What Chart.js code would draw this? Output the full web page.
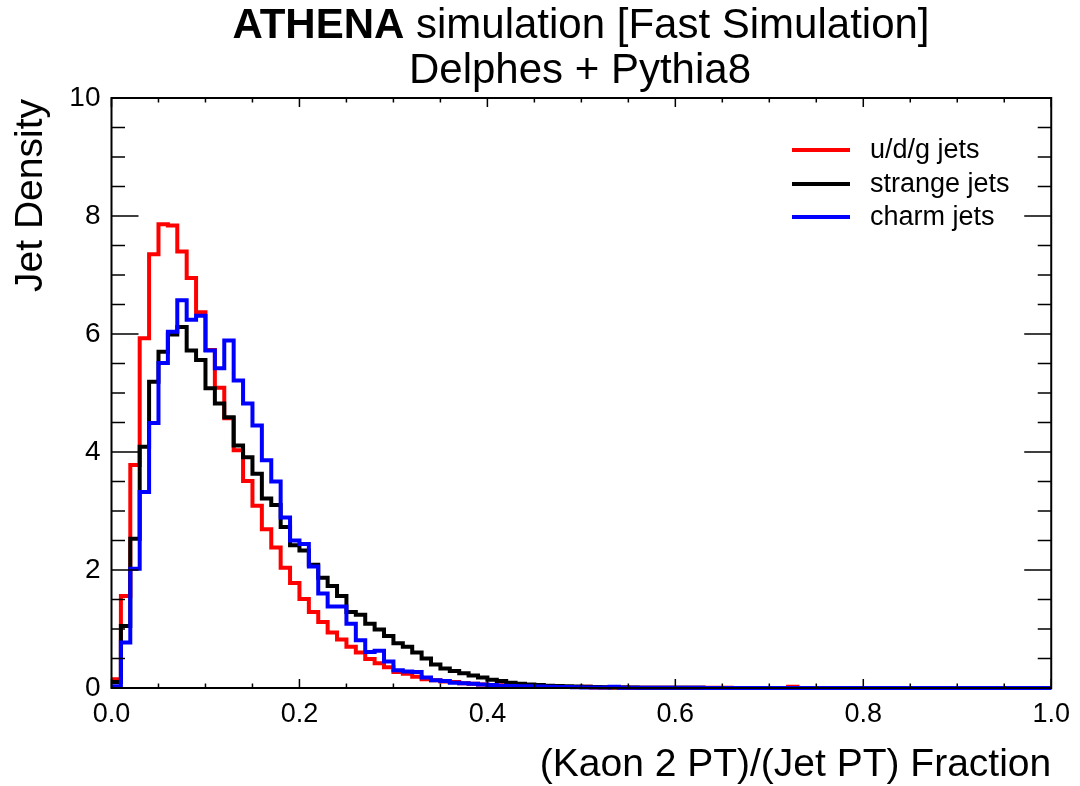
<!DOCTYPE html>
<html>
<head>
<meta charset="utf-8">
<script src="https://cdn.jsdelivr.net/npm/chart.js"></script>
<style>
  html, body { margin: 0; padding: 0; background: #ffffff; }
  #wrap { width: 1080px; height: 786px; position: relative; }
</style>
</head>
<body>
<div id="wrap"><canvas id="hist"></canvas></div>
<script>
  // bins: 100 bins of 0.01 on [0, 1]
  const binWidth = 0.01;
  const nBins = 100;
  const xTickLabels = ['0.0', '0.2', '0.4', '0.6', '0.8', '1.0'];
  const yTickLabels = ['0', '2', '4', '6', '8', '10'];
  const seriesNames = ['u/d/g jets', 'strange jets', 'charm jets'];
  const seriesColors = ['#ff0000', '#000000', '#0000ff'];

  // u/d/g jets (red)
  const udgValues = [
    0.15, 1.56, 3.78, 5.93, 7.35, 7.86, 7.84, 7.40, 6.95, 6.37,
    5.73, 5.09, 4.57, 4.03, 3.51, 3.09, 2.69, 2.38, 2.04, 1.78,
    1.51, 1.29, 1.12, 0.94, 0.82, 0.70, 0.60, 0.49, 0.42, 0.35,
    0.27, 0.24, 0.19, 0.15, 0.13, 0.11, 0.10, 0.08, 0.07, 0.06,
    0.05, 0.045, 0.04, 0.035, 0.03, 0.025, 0.02, 0.02, 0.015, 0.015,
    0.02, 0.01, 0.01, 0.008, 0.008, 0.006, 0.006, 0.005, 0.005, 0.004,
    0.004, 0.004, 0.003, 0.003, 0.003, 0.003, 0.002, 0.002, 0.002, 0.002,
    0.002, 0.002, 0.02, 0.002, 0.002, 0.001, 0.001, 0.001, 0.001, 0.001,
    0.001, 0.001, 0.001, 0.001, 0.001, 0.001, 0.001, 0.001, 0.001, 0.001,
    0.001, 0.001, 0.001, 0.001, 0.001, 0.001, 0.001, 0.001, 0.001, 0.001
  ];
  // strange jets (black)
  const strangeValues = [
    0.10, 1.05, 2.53, 4.09, 5.19, 5.70, 5.99, 6.12, 5.72, 5.56,
    5.08, 4.82, 4.59, 4.11, 3.91, 3.63, 3.21, 3.10, 2.73, 2.42,
    2.33, 2.09, 1.87, 1.73, 1.56, 1.29, 1.24, 1.09, 0.99, 0.88,
    0.76, 0.70, 0.60, 0.50, 0.40, 0.33, 0.29, 0.25, 0.21, 0.18,
    0.14, 0.12, 0.09, 0.07, 0.06, 0.05, 0.04, 0.035, 0.03, 0.025,
    0.02, 0.015, 0.012, 0.01, 0.008, 0.007, 0.006, 0.005, 0.004, 0.004,
    0.003, 0.003, 0.003, 0.002, 0.002, 0.002, 0.002, 0.002, 0.001, 0.001,
    0.001, 0.001, 0.001, 0.001, 0.001, 0.001, 0.001, 0.001, 0.001, 0.001,
    0.001, 0.001, 0.001, 0.001, 0.001, 0.001, 0.001, 0.001, 0.001, 0.001,
    0.001, 0.001, 0.001, 0.001, 0.001, 0.001, 0.001, 0.001, 0.001, 0.001
  ];
  // charm jets (blue)
  const charmValues = [
    0.03, 0.77, 2.02, 3.32, 4.49, 5.51, 6.04, 6.57, 6.24, 6.31,
    5.72, 5.42, 5.89, 5.21, 4.82, 4.45, 3.86, 3.50, 2.89, 2.50,
    2.44, 2.06, 1.60, 1.38, 1.38, 1.09, 0.81, 0.61, 0.63, 0.45,
    0.30, 0.28, 0.27, 0.18, 0.13, 0.12, 0.09, 0.08, 0.07, 0.06,
    0.05, 0.04, 0.035, 0.03, 0.03, 0.025, 0.02, 0.018, 0.015, 0.012,
    0.01, 0.008, 0.008, 0.02, 0.006, 0.005, 0.005, 0.004, 0.004, 0.003,
    0.003, 0.003, 0.003, 0.002, 0.002, 0.002, 0.002, 0.002, 0.002, 0.001,
    0.001, 0.001, 0.001, 0.001, 0.001, 0.001, 0.001, 0.001, 0.001, 0.001,
    0.001, 0.001, 0.001, 0.001, 0.001, 0.001, 0.001, 0.001, 0.001, 0.001,
    0.001, 0.001, 0.001, 0.001, 0.001, 0.001, 0.001, 0.001, 0.001, 0.001
  ];

  const FONT = '"Liberation Sans", Arial, Helvetica, sans-serif';

  // step outline: one point per lower bin edge, plus the closing edge
  const toSteps = (values) => {
    let pts = values.map((v, i) => ({ x: i * binWidth, y: v }));
    pts.push({ x: nBins * binWidth, y: values[values.length - 1] });
    return pts;
  };

  // ROOT style frame with inward ticks on all four sides + titles + legend
  const rootFrame = {
    id: 'rootFrame',
    afterDraw(chart) {
      const ctx = chart.ctx;
      const a = chart.chartArea;
      const xs = chart.scales.x;
      const ys = chart.scales.y;
      ctx.save();
      ctx.strokeStyle = '#000';
      ctx.lineWidth = 2;
      ctx.strokeRect(a.left, a.top, a.right - a.left, a.bottom - a.top);
      ctx.lineWidth = 1.5;
      ctx.beginPath();
      for (let k = 0; k <= 20; k++) {
        let v = k * 0.05;
        let px = xs.getPixelForValue(v);
        let len = (k % 4 === 0) ? 9 : 4.5;
        ctx.moveTo(px, a.bottom); ctx.lineTo(px, a.bottom - len);
        ctx.moveTo(px, a.top); ctx.lineTo(px, a.top + len);
      }
      for (let k = 0; k <= 20; k++) {
        let v = k * 0.5;
        let py = ys.getPixelForValue(v);
        let len = (k % 4 === 0) ? 27 : 13.5;
        ctx.moveTo(a.left, py); ctx.lineTo(a.left + len, py);
        ctx.moveTo(a.right, py); ctx.lineTo(a.right - len, py);
      }
      ctx.stroke();

      // main title
      ctx.fillStyle = '#000';
      ctx.textBaseline = 'alphabetic';
      ctx.font = 'bold 42px ' + FONT;
      let boldPart = 'ATHENA';
      let restPart = ' simulation [Fast Simulation]';
      let wb = ctx.measureText(boldPart).width;
      ctx.font = '42px ' + FONT;
      let wr = ctx.measureText(restPart).width;
      let x0 = 581 - (wb + wr) / 2;
      ctx.font = 'bold 42px ' + FONT;
      ctx.textAlign = 'left';
      ctx.fillText(boldPart, x0, 37.5);
      ctx.font = '42px ' + FONT;
      ctx.fillText(restPart, x0 + wb, 37.5);
      ctx.textAlign = 'center';
      ctx.fillText('Delphes + Pythia8', 580, 82.5);

      // axis titles
      ctx.font = '39px ' + FONT;
      ctx.textAlign = 'right';
      ctx.fillText('(Kaon 2 PT)/(Jet PT) Fraction', a.right, 776);
      ctx.save();
      ctx.translate(42, a.top + 1);
      ctx.rotate(-Math.PI / 2);
      ctx.textAlign = 'right';
      ctx.fillText('Jet Density', 0, 0);
      ctx.restore();

      // legend
      const legendY = [150, 184, 217];
      ctx.font = '27px ' + FONT;
      ctx.textAlign = 'left';
      ctx.textBaseline = 'middle';
      chart.data.datasets.forEach((ds, i) => {
        ctx.strokeStyle = ds.borderColor;
        ctx.lineWidth = 4;
        ctx.beginPath();
        ctx.moveTo(792, legendY[i]);
        ctx.lineTo(850, legendY[i]);
        ctx.stroke();
        ctx.fillStyle = '#000';
        ctx.fillText(ds.label, 870, legendY[i] + 1);
      });
      ctx.restore();
    }
  };

  const values = [udgValues, strangeValues, charmValues];
  const canvas = document.getElementById('hist');
  const context = canvas.getContext('2d');
  const chart = new Chart(context, {
    type: 'line',
    data: {
      datasets: values.map((vals, i) => ({
        label: seriesNames[i],
        data: toSteps(vals),
        stepped: 'before',
        borderColor: seriesColors[i],
        backgroundColor: seriesColors[i],
        borderWidth: 4,
        pointRadius: 0,
        fill: false,
        clip: false,
        order: 2 - i
      }))
    },
    options: {
      responsive: true,
      maintainAspectRatio: false,
      animation: false,
      events: [],
      layout: {
        padding: { top: 98, right: 28, bottom: 0, left: 0 }
      },
      scales: {
        x: {
          type: 'linear',
          min: 0,
          max: 1,
          grid: { display: false, drawTicks: false },
          border: { display: false },
          afterFit: (scale) => { scale.height = 98; },
          afterBuildTicks: (scale) => {
            scale.ticks = xTickLabels.map(t => ({ value: parseFloat(t) }));
          },
          ticks: {
            padding: 10,
            maxRotation: 0,
            autoSkip: false,
            color: '#000',
            font: { family: FONT, size: 27 },
            callback: (v, i) => xTickLabels[i]
          }
        },
        y: {
          type: 'linear',
          min: 0,
          max: 10,
          grid: { display: false, drawTicks: false },
          border: { display: false },
          afterFit: (scale) => { scale.width = 111.5; },
          afterBuildTicks: (scale) => {
            scale.ticks = yTickLabels.map(t => ({ value: parseFloat(t) }));
          },
          ticks: {
            padding: 11,
            autoSkip: false,
            color: '#000',
            font: { family: FONT, size: 28 },
            callback: (v, i) => yTickLabels[i]
          }
        }
      },
      plugins: {
        legend: { display: false },
        title: { display: false },
        tooltip: { enabled: false }
      }
    },
    plugins: [rootFrame]
  });
</script>
</body>
</html>
